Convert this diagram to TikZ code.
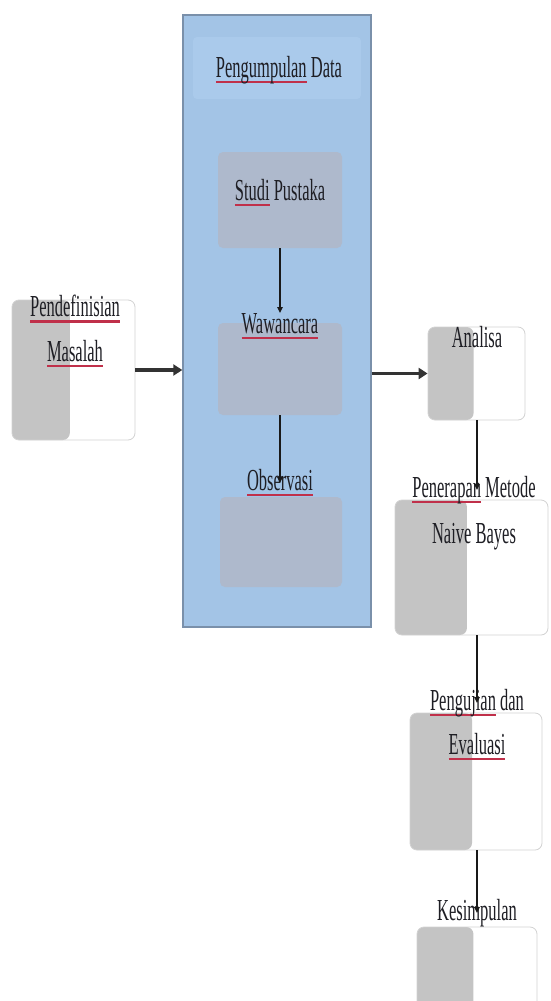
\documentclass[tikz,border=0pt]{standalone}
\usepackage{fontspec}
\setmainfont{Liberation Serif}
\usetikzlibrary{calc,arrows.meta}
\definecolor{bluefill}{HTML}{A3C4E6}
\definecolor{blueedge}{HTML}{7A90AA}
\definecolor{subfill}{HTML}{AEB9CC}
\definecolor{bandfill}{HTML}{AACAEB}
\definecolor{halfgray}{HTML}{C4C4C4}
\definecolor{txt}{HTML}{1E1E24}
\definecolor{spellred}{HTML}{C0304A}
\newsavebox\splbox
\newcommand\spl[1]{\sbox\splbox{#1}\rlap{\textcolor{spellred}{\rule[-3pt]{\wd\splbox}{1.2pt}}}\usebox\splbox}
\newcommand\lbltxt[1]{\scalebox{1}[1.85]{#1}}
\tikzset{
  stage/.style={rounded corners=7pt, draw=gray!35, line width=0.8pt, fill=white, inner sep=0pt,
    path picture={\fill[halfgray] (path picture bounding box.south west) rectangle
      ($(path picture bounding box.north west)!0.47!(path picture bounding box.north east)$);}},
  subbox/.style={rounded corners=5pt, fill=subfill, draw=none, inner sep=0pt},
  lbl/.style={font=\fontsize{16.5}{18}\selectfont, text=txt, inner sep=0pt},
  bigarrow/.style={-{Triangle[length=9pt,width=11pt]}, line width=3.6pt, draw=black!80},
  thinarrow/.style={-{Triangle[length=6pt,width=5.5pt]}, line width=1.4pt, draw=black!90}
}
\begin{document}
\begin{tikzpicture}[x=1pt,y=-1pt]
\useasboundingbox (0,0) rectangle (550,1001);
\clip (0,0) rectangle (550,1001);
\fill[white] (0,0) rectangle (550,1001);
% boxes
\node[stage, minimum width=123pt, minimum height=140pt] (prob) at (73.5,370) {};
\node[draw=blueedge, fill=bluefill, line width=1.4pt, minimum width=188pt, minimum height=612pt, inner sep=0pt] (blue) at (277,321) {};
\node[fill=bandfill, rounded corners=4pt, minimum width=168pt, minimum height=62pt, inner sep=0pt] (band) at (277,68) {};
\node[subbox, minimum width=124pt, minimum height=96pt] (studi) at (280,200) {};
\node[subbox, minimum width=124pt, minimum height=92pt] (waw) at (280,369) {};
\node[subbox, minimum width=122pt, minimum height=90pt] (obs) at (281,542) {};
\node[stage, minimum width=97pt, minimum height=93pt] (analisa) at (476.5,373.5) {};
\node[stage, minimum width=153pt, minimum height=135pt] (penerapan) at (471.5,567.5) {};
\node[stage, minimum width=132pt, minimum height=137pt] (uji) at (476,781.5) {};
\node[stage, minimum width=120pt, minimum height=90pt] (kes) at (477,972) {};
% labels
\node[lbl] (lPend1) at (75,309) {\lbltxt{\spl{Pendefinisian}}};
\node[lbl] (lPend2) at (75,354) {\lbltxt{\spl{Masalah}}};
\node[lbl] (lPeng) at (279,70) {\lbltxt{\spl{Pengumpulan} Data}};
\node[lbl] (lStudi) at (280,193) {\lbltxt{\spl{Studi} Pustaka}};
\node[lbl] (lWaw) at (280,326) {\lbltxt{\spl{Wawancara}}};
\node[lbl] (lObs) at (280,483) {\lbltxt{\spl{Observasi}}};
\node[lbl] (lAn) at (477,337) {\lbltxt{Analisa}};
\node[lbl] (lPen1) at (474,490) {\lbltxt{\spl{Penerapan} Metode}};
\node[lbl] (lPen2) at (474,537) {\lbltxt{Naive Bayes}};
\node[lbl] (lUji1) at (477,703) {\lbltxt{\spl{Pengujian} dan}};
\node[lbl] (lUji2) at (477,747) {\lbltxt{\spl{Evaluasi}}};
\node[lbl] (lKes) at (477,913) {\lbltxt{Kesimpulan}};
% connectors
\draw[bigarrow] (prob.east) -- (blue.west |- prob.east);
\draw[bigarrow] (blue.east |- analisa.west) -- (analisa.west);
\draw[thinarrow] (lWaw.north |- studi.south) -- (lWaw.north);
\draw[thinarrow] (lObs.center |- waw.south) -- (lObs.center);
\draw[thinarrow] (lUji1.center |- analisa.south) -- (lUji1.center |- lPen1.center);
\draw[thinarrow] (lUji1.center |- penerapan.south) -- (lUji1.center);
\draw[thinarrow] (lKes.center |- uji.south) -- (lKes.center);
\end{tikzpicture}
\end{document}
